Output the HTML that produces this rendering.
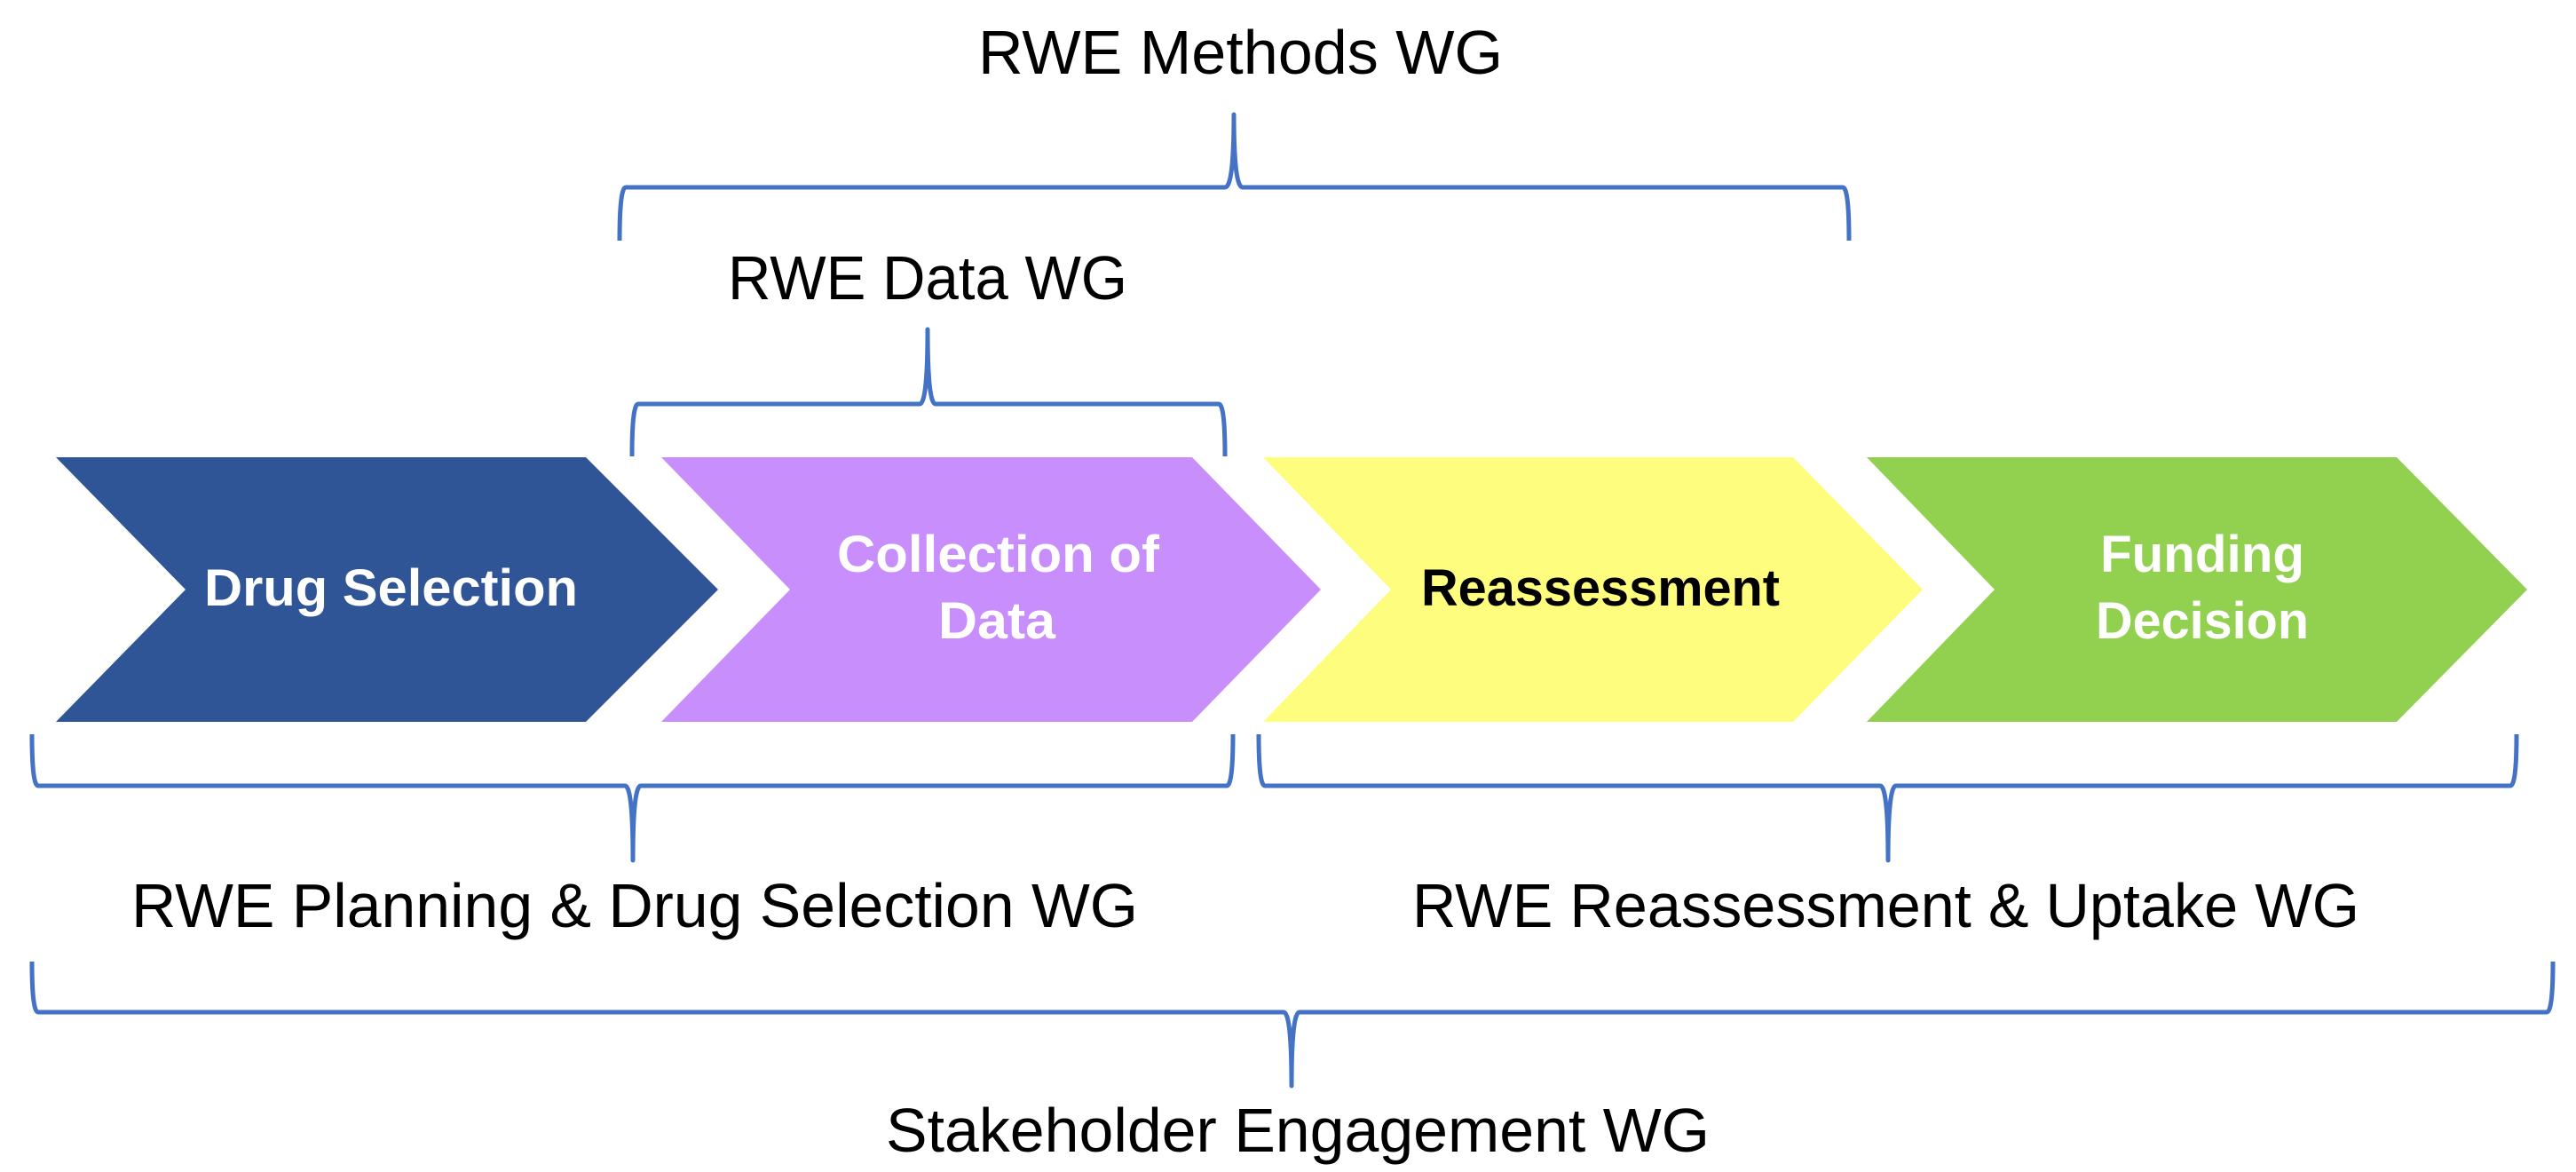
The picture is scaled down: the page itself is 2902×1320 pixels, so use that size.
<!DOCTYPE html>
<html><head><meta charset="utf-8"><style>html,body{margin:0;padding:0;background:#fff}svg{display:block}</style></head>
<body>
<svg width="2902" height="1320" viewBox="0 0 2902 1320" xmlns="http://www.w3.org/2000/svg">
<g>
<polygon points="63,515 660,515 809,664 660,813 63,813 209,664" fill="#2F5597"/>
<polygon points="745,515 1343,515 1488,664 1343,813 745,813 890,664" fill="#C78EFC"/>
<polygon points="1423,515 2020,515 2166,664 2020,813 1423,813 1567,664" fill="#FFFD7D"/>
<polygon points="2103,515 2700,515 2847,664 2700,813 2103,813 2247,664" fill="#92D050"/>
</g>
<g font-family="Liberation Sans, sans-serif" font-weight="bold" font-size="58" fill="#fff">
<text x="230" y="682" textLength="421" lengthAdjust="spacingAndGlyphs">Drug Selection</text>
<text x="943" y="644" textLength="363" lengthAdjust="spacingAndGlyphs">Collection of</text>
<text x="1057" y="719" textLength="132" lengthAdjust="spacingAndGlyphs">Data</text>
<text x="1601" y="682" textLength="404" lengthAdjust="spacingAndGlyphs" fill="#000">Reassessment</text>
<text x="2366" y="644" textLength="230" lengthAdjust="spacingAndGlyphs">Funding</text>
<text x="2361" y="719" textLength="240" lengthAdjust="spacingAndGlyphs">Decision</text>
</g>
<g fill="none" stroke="#4472C4" stroke-width="5" stroke-linejoin="round">
<!-- Methods brace (peak up) -->
<path d="M698,271 Q698,211 705,211 L1380,211 Q1390,211 1390,129 Q1390,211 1400,211 L2076,211 Q2083,211 2083,271"/>
<!-- Data brace -->
<path d="M712,514 Q712,455 719,455 L1036,455 Q1045,455 1045,371 Q1045,455 1054,455 L1373,455 Q1380,455 1380,514"/>
<!-- Planning brace (peak down) -->
<path d="M36,827 Q36,885 43,885 L704,885 Q713,885 713,969 Q713,885 722,885 L1382,885 Q1389,885 1389,827"/>
<!-- Reassessment brace -->
<path d="M1418,827 Q1418,885 1425,885 L2118,885 Q2127,885 2127,969 Q2127,885 2136,885 L2828,885 Q2835,885 2835,827"/>
<!-- Stakeholder brace -->
<path d="M36,1083 Q36,1140 43,1140 L1446,1140 Q1455,1140 1455,1223 Q1455,1140 1464,1140 L2869,1140 Q2876,1140 2876,1083"/>
</g>
<g font-family="Liberation Sans, sans-serif" font-size="70" fill="#000">
<text x="1102" y="83" textLength="591" lengthAdjust="spacingAndGlyphs">RWE Methods WG</text>
<text x="820" y="337" textLength="450" lengthAdjust="spacingAndGlyphs">RWE Data WG</text>
<text x="148" y="1044" textLength="1134" lengthAdjust="spacingAndGlyphs">RWE Planning &amp; Drug Selection WG</text>
<text x="1591" y="1044" textLength="1067" lengthAdjust="spacingAndGlyphs">RWE Reassessment &amp; Uptake WG</text>
<text x="998" y="1297" textLength="928" lengthAdjust="spacingAndGlyphs">Stakeholder Engagement WG</text>
</g>
</svg>
</body></html>
